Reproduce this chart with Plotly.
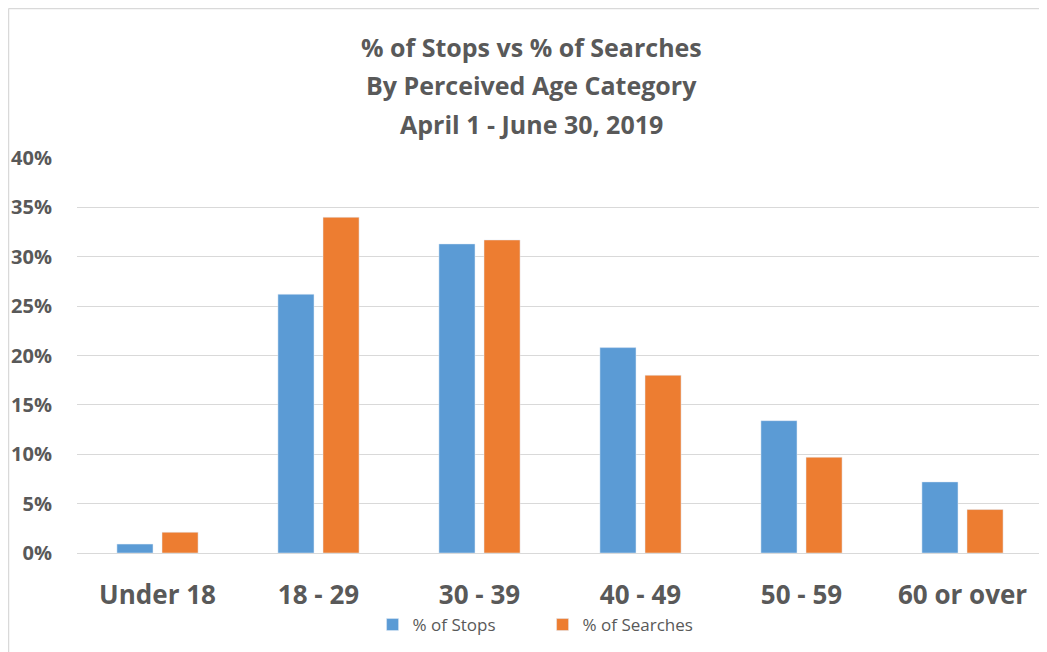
import plotly.graph_objects as go

CATEGORIES = ["Under 18", "18 - 29", "30 - 39", "40 - 49", "50 - 59", "60 or over"]
STOPS_PCT = [0.009, 0.262, 0.313, 0.208, 0.134, 0.072]
SEARCHES_PCT = [0.021, 0.340, 0.317, 0.180, 0.097, 0.044]
TITLE_LINES = ["% of Stops vs % of Searches", "By Perceived Age Category", "April 1 - June 30, 2019"]

# the page body adds an 8px margin, so the figure is 8px smaller and
# all positions below are measured in figure pixels (page pixels - 8)
W, H = 1039, 644
L, R, T, B = 69, 4, 150, 99
PLOT_H = H - T - B
PLOT_W = W - L - R
GREY = "#595959"


def px_to_paper_y(py):
    return (H - B - py) / PLOT_H


def px_to_paper_x(px):
    return (px - L) / PLOT_W


fig = go.Figure()
fig.add_trace(go.Bar(x=CATEGORIES, y=STOPS_PCT, name="% of Stops", marker_color="#5B9BD5"))
fig.add_trace(go.Bar(x=CATEGORIES, y=SEARCHES_PCT, name="% of Searches", marker_color="#ED7D31"))

# title as separate lines to control spacing
for i, line in enumerate(TITLE_LINES):
    fig.add_annotation(text=line, xref="paper", yref="paper",
                       x=px_to_paper_x(523), y=px_to_paper_y(39 + i * 38.5),
                       xanchor="center", yanchor="middle", showarrow=False,
                       font=dict(family="Open Sans", size=25, color=GREY, weight="bold"))

# light frame from the original crop
fig.add_shape(type="line", xref="paper", yref="paper",
              x0=px_to_paper_x(0.5), x1=px_to_paper_x(1060), y0=px_to_paper_y(0.5), y1=px_to_paper_y(0.5),
              line=dict(color="#D9D9D9", width=1.5))
fig.add_shape(type="line", xref="paper", yref="paper",
              x0=px_to_paper_x(0.5), x1=px_to_paper_x(0.5), y0=px_to_paper_y(0.5), y1=px_to_paper_y(700),
              line=dict(color="#D9D9D9", width=1.5))

fig.update_layout(
    width=W, height=H,
    margin=dict(l=L, r=R, t=T, b=B, autoexpand=False),
    paper_bgcolor="white", plot_bgcolor="white",
    barmode="group", bargap=0.44, bargroupgap=0.2,
    legend=dict(orientation="h", x=0.5145, xanchor="center", xref="container",
                y=1 - 617 / H, yanchor="middle", yref="container",
                font=dict(family="Open Sans", size=17, color=GREY),
                entrywidth=125, entrywidthmode="pixels", itemwidth=30),
)

fig.update_yaxes(range=[0, 0.40], dtick=0.05, tickformat=".0%",
                 gridcolor="#D9D9D9", gridwidth=1, zeroline=False,
                 showline=False, ticklabelstandoff=24, automargin=False,
                 tickfont=dict(family="Open Sans", size=20, color=GREY, weight="bold"))
fig.update_xaxes(showline=True, linecolor="#D9D9D9", linewidth=1, ticks="",
                 ticklabelstandoff=19, automargin=False,
                 tickfont=dict(family="Open Sans", size=26, color=GREY, weight="bold"))

fig.write_html("out.html")
